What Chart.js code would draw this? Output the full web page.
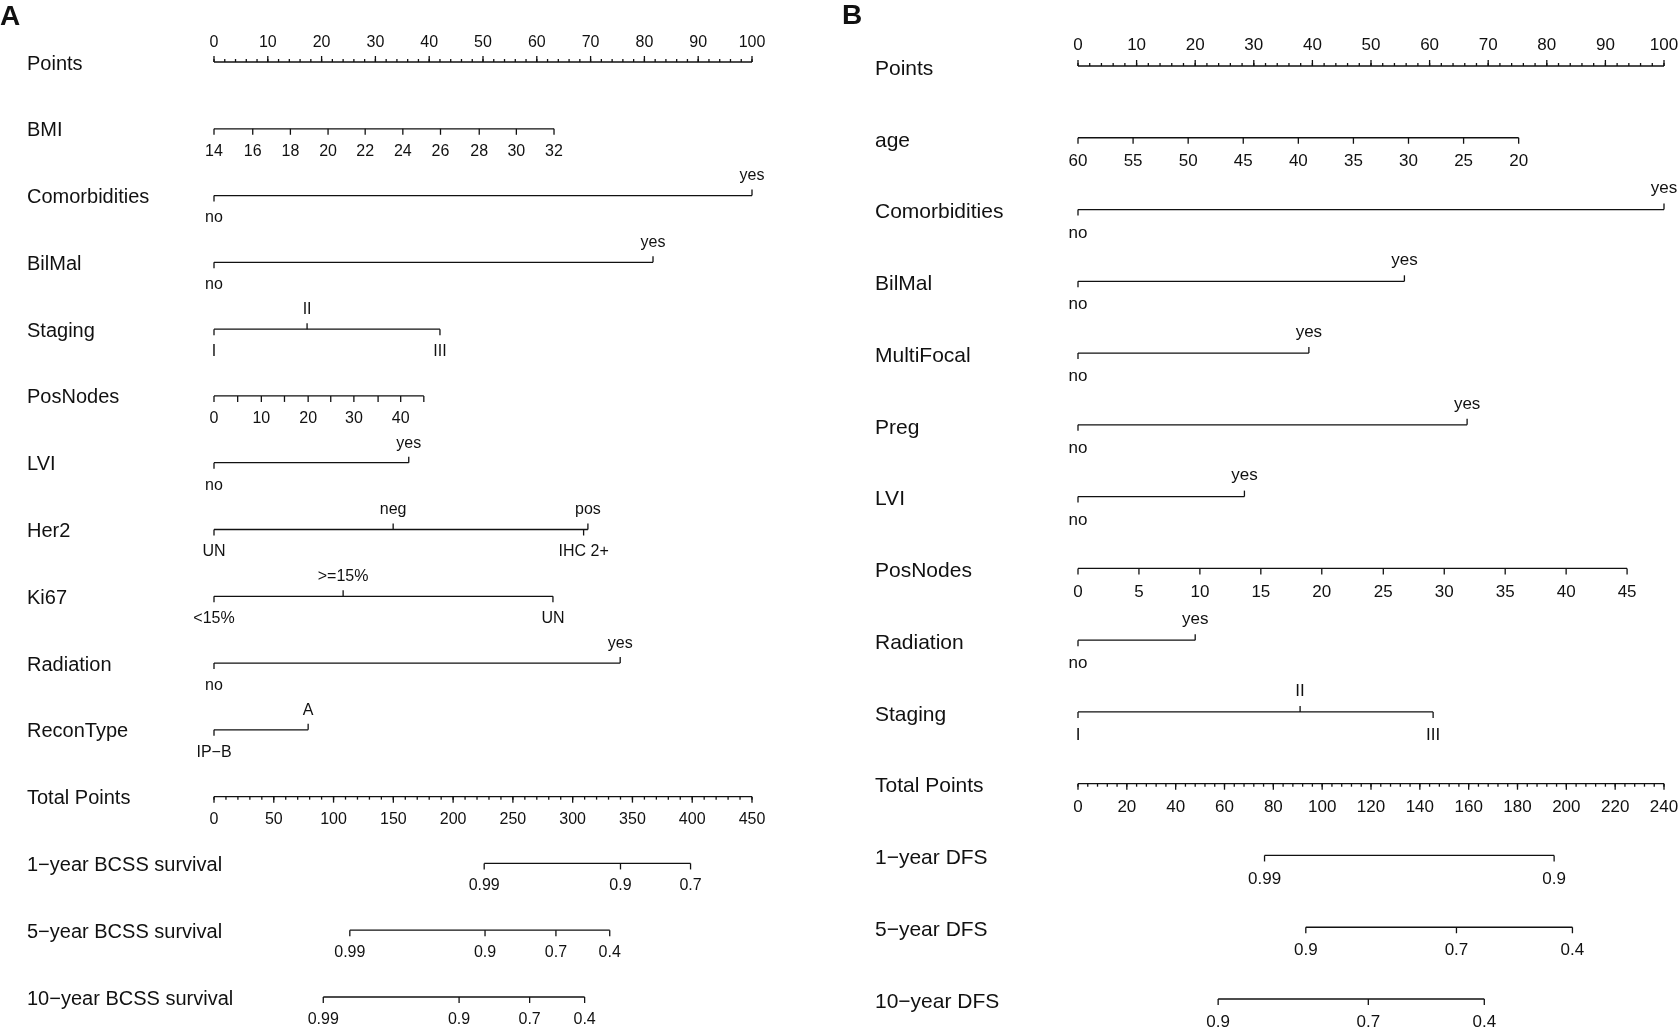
<!DOCTYPE html>
<html>
<head>
<meta charset="utf-8">
<script src="https://cdn.jsdelivr.net/npm/chart.js@4.4.1/dist/chart.umd.min.js"></script>
<style>
  body { margin: 0; background: #fff; }
  #panelA { position: absolute; left: 0; top: 0; }
  #panelB { position: absolute; left: 790px; top: 0; }
</style>
</head>
<body>
<canvas id="panelA" width="790" height="1033"></canvas>
<canvas id="panelB" width="890" height="1033"></canvas>
<script>
// ---------- panel A (BCSS) ----------
const pointsLabels = ['0','10','20','30','40','50','60','70','80','90','100'];
const pointsValues = [0,10,20,30,40,50,60,70,80,90,100];

const bmiLabels = ['14','16','18','20','22','24','26','28','30','32'];
const bmiPoints = [0,7.2,14.2,21.2,28.1,35.1,42.1,49.3,56.2,63.2];
const comorbLabelsA = ['no','yes'];
const comorbPointsA = [0,100];
const bilmalLabelsA = ['no','yes'];
const bilmalPointsA = [0,81.6];
const stagingLabelsA = ['I','II','III'];
const stagingPointsA = [0,17.3,42];
const posNodesLabelsA = ['0','','10','','20','','30','','40',''];
const posNodesPointsA = [0,4.4,8.8,13.1,17.5,21.7,26.0,30.5,34.7,39.0];
const lviLabelsA = ['no','yes'];
const lviPointsA = [0,36.2];
const her2Labels = ['UN','neg','IHC 2+','pos'];
const her2Points = [0,33.3,68.7,69.5];
const ki67Labels = ['<15%','>=15%','UN'];
const ki67Points = [0,24,63];
const radiationLabelsA = ['no','yes'];
const radiationPointsA = [0,75.5];
const reconLabels = ['IP−B','A'];
const reconPoints = [0,17.5];

const totalLabelsA = ['0','50','100','150','200','250','300','350','400','450'];
const totalValuesA = [0,50,100,150,200,250,300,350,400,450];
const bcss1Labels = ['0.99','0.9','0.7'];
const bcss1Total = [226,340,398.6];
const bcss5Labels = ['0.99','0.9','0.7','0.4'];
const bcss5Total = [113.6,226.7,286,331];
const bcss10Labels = ['0.99','0.9','0.7','0.4'];
const bcss10Total = [91.4,205,264,310];

// ---------- panel B (DFS) ----------
const ageLabels = ['60','55','50','45','40','35','30','25','20'];
const agePoints = [0,9.4,18.8,28.2,37.6,47.0,56.4,65.8,75.2];
const comorbLabelsB = ['no','yes'];
const comorbPointsB = [0,100];
const bilmalLabelsB = ['no','yes'];
const bilmalPointsB = [0,55.7];
const multiFocalLabels = ['no','yes'];
const multiFocalPoints = [0,39.4];
const pregLabels = ['no','yes'];
const pregPoints = [0,66.4];
const lviLabelsB = ['no','yes'];
const lviPointsB = [0,28.4];
const posNodesLabelsB = ['0','5','10','15','20','25','30','35','40','45'];
const posNodesPointsB = [0,10.4,20.8,31.2,41.6,52.1,62.5,72.9,83.3,93.7];
const radiationLabelsB = ['no','yes'];
const radiationPointsB = [0,20];
const stagingLabelsB = ['I','II','III'];
const stagingPointsB = [0,37.9,60.6];

const totalLabelsB = ['0','20','40','60','80','100','120','140','160','180','200','220','240'];
const totalValuesB = [0,20,40,60,80,100,120,140,160,180,200,220,240];
const dfs1Labels = ['0.99','0.9'];
const dfs1Total = [76.4,195];
const dfs5Labels = ['0.9','0.7','0.4'];
const dfs5Total = [93.3,155,202.5];
const dfs10Labels = ['0.9','0.7','0.4'];
const dfs10Total = [57.4,118.9,166.4];

// row builders
function pointsRow(name, labels, vals, minorStep) {
  return { name, axis: 'x', ticks: vals.map((v, i) => ({ v, text: labels[i], side: 'up' })),
           minor: minorStep, minorSide: 'up' };
}
function contRow(name, labels, vals, axis) {
  return { name, axis: axis || 'x', ticks: vals.map((v, i) => ({ v, text: labels[i], side: 'down' })) };
}
function catRow(name, labels, vals) {
  // levels alternate below / above, as in rms nomograms
  return { name, axis: 'x', ticks: vals.map((v, i) => ({ v, text: labels[i], side: i % 2 ? 'up' : 'down' })) };
}
function totalRow(name, labels, vals, minorStep) {
  return { name, axis: 'xt', ticks: vals.map((v, i) => ({ v, text: labels[i], side: 'down' })),
           minor: minorStep, minorSide: 'down' };
}

const rowsA = [
  pointsRow('Points', pointsLabels, pointsValues, 2),
  contRow('BMI', bmiLabels, bmiPoints),
  catRow('Comorbidities', comorbLabelsA, comorbPointsA),
  catRow('BilMal', bilmalLabelsA, bilmalPointsA),
  catRow('Staging', stagingLabelsA, stagingPointsA),
  contRow('PosNodes', posNodesLabelsA, posNodesPointsA),
  catRow('LVI', lviLabelsA, lviPointsA),
  catRow('Her2', her2Labels, her2Points),
  catRow('Ki67', ki67Labels, ki67Points),
  catRow('Radiation', radiationLabelsA, radiationPointsA),
  catRow('ReconType', reconLabels, reconPoints),
  totalRow('Total Points', totalLabelsA, totalValuesA, 10),
  contRow('1−year BCSS survival', bcss1Labels, bcss1Total, 'xt'),
  contRow('5−year BCSS survival', bcss5Labels, bcss5Total, 'xt'),
  contRow('10−year BCSS survival', bcss10Labels, bcss10Total, 'xt')
];

const rowsB = [
  pointsRow('Points', pointsLabels, pointsValues, 2),
  contRow('age', ageLabels, agePoints),
  catRow('Comorbidities', comorbLabelsB, comorbPointsB),
  catRow('BilMal', bilmalLabelsB, bilmalPointsB),
  catRow('MultiFocal', multiFocalLabels, multiFocalPoints),
  catRow('Preg', pregLabels, pregPoints),
  catRow('LVI', lviLabelsB, lviPointsB),
  contRow('PosNodes', posNodesLabelsB, posNodesPointsB),
  catRow('Radiation', radiationLabelsB, radiationPointsB),
  catRow('Staging', stagingLabelsB, stagingPointsB),
  totalRow('Total Points', totalLabelsB, totalValuesB, 4),
  contRow('1−year DFS', dfs1Labels, dfs1Total, 'xt'),
  contRow('5−year DFS', dfs5Labels, dfs5Total, 'xt'),
  contRow('10−year DFS', dfs10Labels, dfs10Total, 'xt')
];

const INK = '#111';
const FONT = '"Liberation Sans", Arial, Helvetica, sans-serif';

// draws row names, tick marks and tick labels using the chart scales
const nomoPlugin = {
  id: 'nomo',
  afterDatasetsDraw(chart, args, o) {
    const ctx = chart.ctx;
    const ys = chart.scales.y;
    ctx.save();
    ctx.fillStyle = INK;
    ctx.strokeStyle = INK;
    ctx.lineWidth = 1.3;
    o.rows.forEach((r, i) => {
      const py = ys.getPixelForValue(i);
      const sc = chart.scales[r.axis];
      ctx.font = o.labelFont;
      ctx.textAlign = 'left';
      ctx.textBaseline = 'middle';
      ctx.fillText(r.name, o.labelX, py + o.labelDy);

      if (r.minor) {
        const d = r.minorSide === 'up' ? -1 : 1;
        for (let v = sc.min; v <= sc.max + 1e-9; v += r.minor) {
          const px = sc.getPixelForValue(v);
          ctx.beginPath(); ctx.moveTo(px, py); ctx.lineTo(px, py + d * o.minorLen); ctx.stroke();
        }
      }
      ctx.font = o.tickFont;
      ctx.textAlign = 'center';
      r.ticks.forEach(t => {
        const px = sc.getPixelForValue(t.v);
        const d = t.side === 'up' ? -1 : 1;
        ctx.beginPath(); ctx.moveTo(px, py); ctx.lineTo(px, py + d * o.tickLen); ctx.stroke();
        if (t.text) ctx.fillText(t.text, px, py + (d < 0 ? -o.up : o.down));
      });
    });
    ctx.font = o.letterFont;
    ctx.textAlign = 'left';
    ctx.textBaseline = 'middle';
    ctx.fillText(o.letter, o.letterX, o.letterY);
    ctx.restore();
  }
};

function drawNomogram(id, rows, totalMax, pad, o) {
  const datasets = rows.map((r, i) => {
    const vs = r.ticks.map(t => t.v);
    return {
      xAxisID: r.axis,
      yAxisID: 'y',
      data: [{ x: Math.min(...vs), y: i }, { x: Math.max(...vs), y: i }],
      showLine: true,
      borderColor: INK,
      borderWidth: 1.3,
      pointRadius: 0,
      clip: false
    };
  });
  return new Chart(document.getElementById(id), {
    type: 'scatter',
    data: { datasets },
    options: {
      responsive: false,
      animation: false,
      events: [],
      layout: { padding: pad },
      scales: {
        x: { type: 'linear', axis: 'x', position: 'bottom', min: 0, max: 100, display: false },
        xt: { type: 'linear', axis: 'x', position: 'bottom', min: 0, max: totalMax, display: false },
        y: { type: 'linear', min: 0, max: rows.length - 1, reverse: true, display: false }
      },
      plugins: {
        legend: { display: false },
        tooltip: { enabled: false },
        nomo: Object.assign({ rows }, o)
      }
    },
    plugins: [nomoPlugin]
  });
}

drawNomogram('panelA', rowsA, 450, { left: 214, right: 38, top: 62, bottom: 36 }, {
  labelX: 27, labelDy: 2, labelFont: '20px ' + FONT, tickFont: '16px ' + FONT,
  tickLen: 6, minorLen: 3, up: 19.5, down: 22.5,
  letter: 'A', letterX: 0, letterY: 17, letterFont: 'bold 28px ' + FONT
});

drawNomogram('panelB', rowsB, 240, { left: 288, right: 16, top: 66, bottom: 34 }, {
  labelX: 85, labelDy: 3, labelFont: '21px ' + FONT, tickFont: '17px ' + FONT,
  tickLen: 6, minorLen: 3, up: 21, down: 23.5,
  letter: 'B', letterX: 52, letterY: 16, letterFont: 'bold 28px ' + FONT
});
</script>
</body>
</html>
